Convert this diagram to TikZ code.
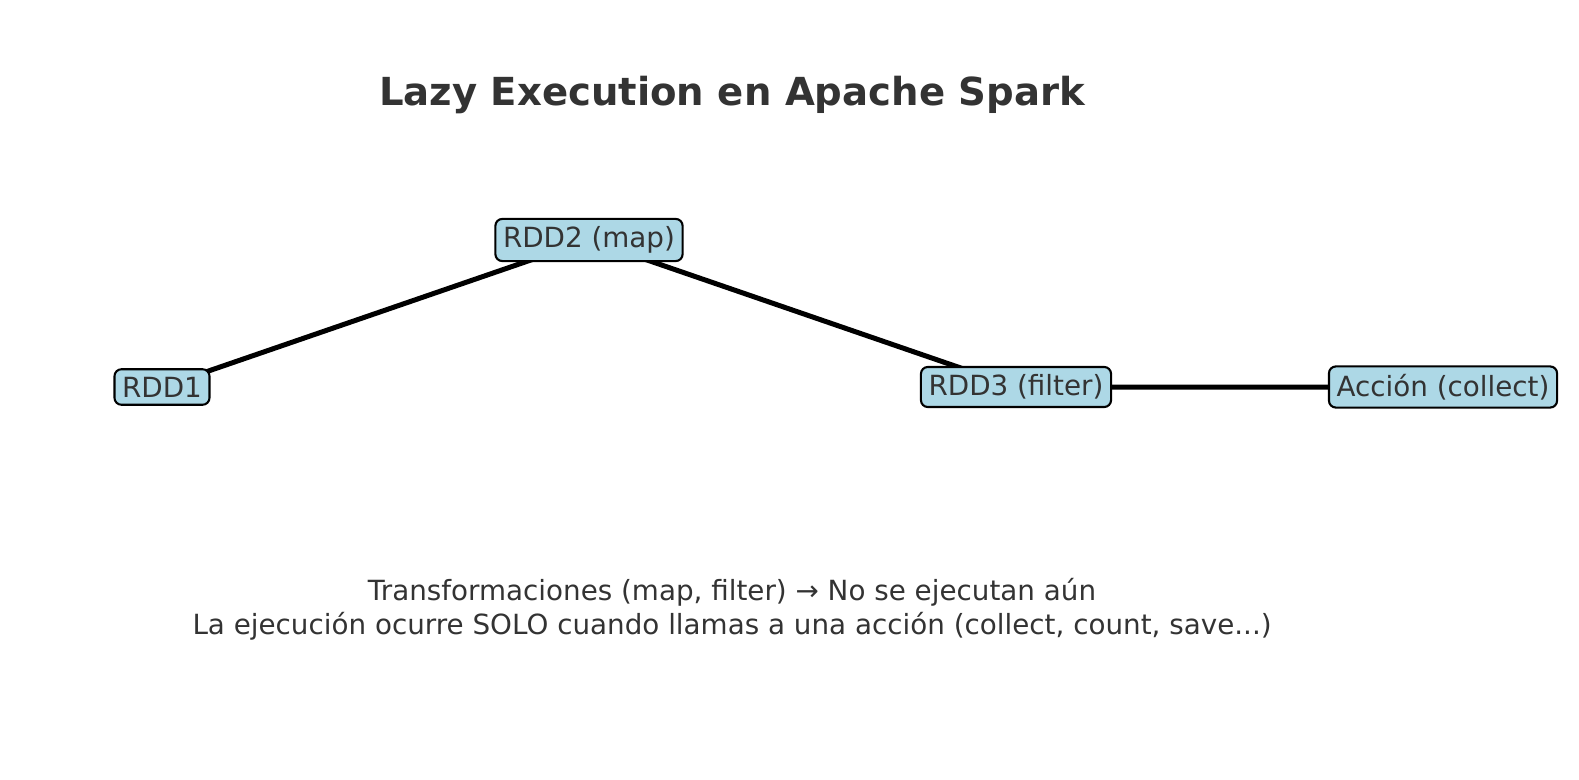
\documentclass[tikz,border=0pt]{standalone}
\usepackage{fontspec}
\setmainfont{DejaVu Sans}
\definecolor{boxblue}{HTML}{ADD8E6}
\definecolor{txt}{HTML}{333333}
\begin{document}
\begin{tikzpicture}[x=0.72pt,y=-0.72pt,
  rdd/.style={draw=black,line width=1.5pt,fill=boxblue,rounded corners=5pt,inner sep=5.5pt,text=txt,font=\fontsize{20}{24}\selectfont},
  link/.style={line width=3.6pt,black},
  note/.style={text=txt,font=\fontsize{20}{24}\selectfont}]
\useasboundingbox (0,0) rectangle (1579,780);
\node[text=txt,font=\fontsize{27.8}{33}\selectfont\bfseries] (title) at (732,95) {Lazy Execution en Apache Spark};
\coordinate (c1) at (162,387);
\coordinate (c2) at (589,240);
\coordinate (c3) at (1016,387);
\coordinate (c4) at (1443,387);
\draw[link] (c1) -- (c2) -- (c3) -- (c4);
\node[rdd] (r1) at (c1) {RDD1};
\node[rdd] (r2) at (c2) {RDD2 (map)};
\node[rdd] (r3) at (c3) {RDD3 (filter)};
\node[rdd] (r4) at (c4) {Acción (collect)};
\node[note] (l1) at (732,592) {Transformaciones (map, filter) → No se ejecutan aún};
\node[note] (l2) at (732,626) {La ejecución ocurre SOLO cuando llamas a una acción (collect, count, save...)};
\end{tikzpicture}
\end{document}
